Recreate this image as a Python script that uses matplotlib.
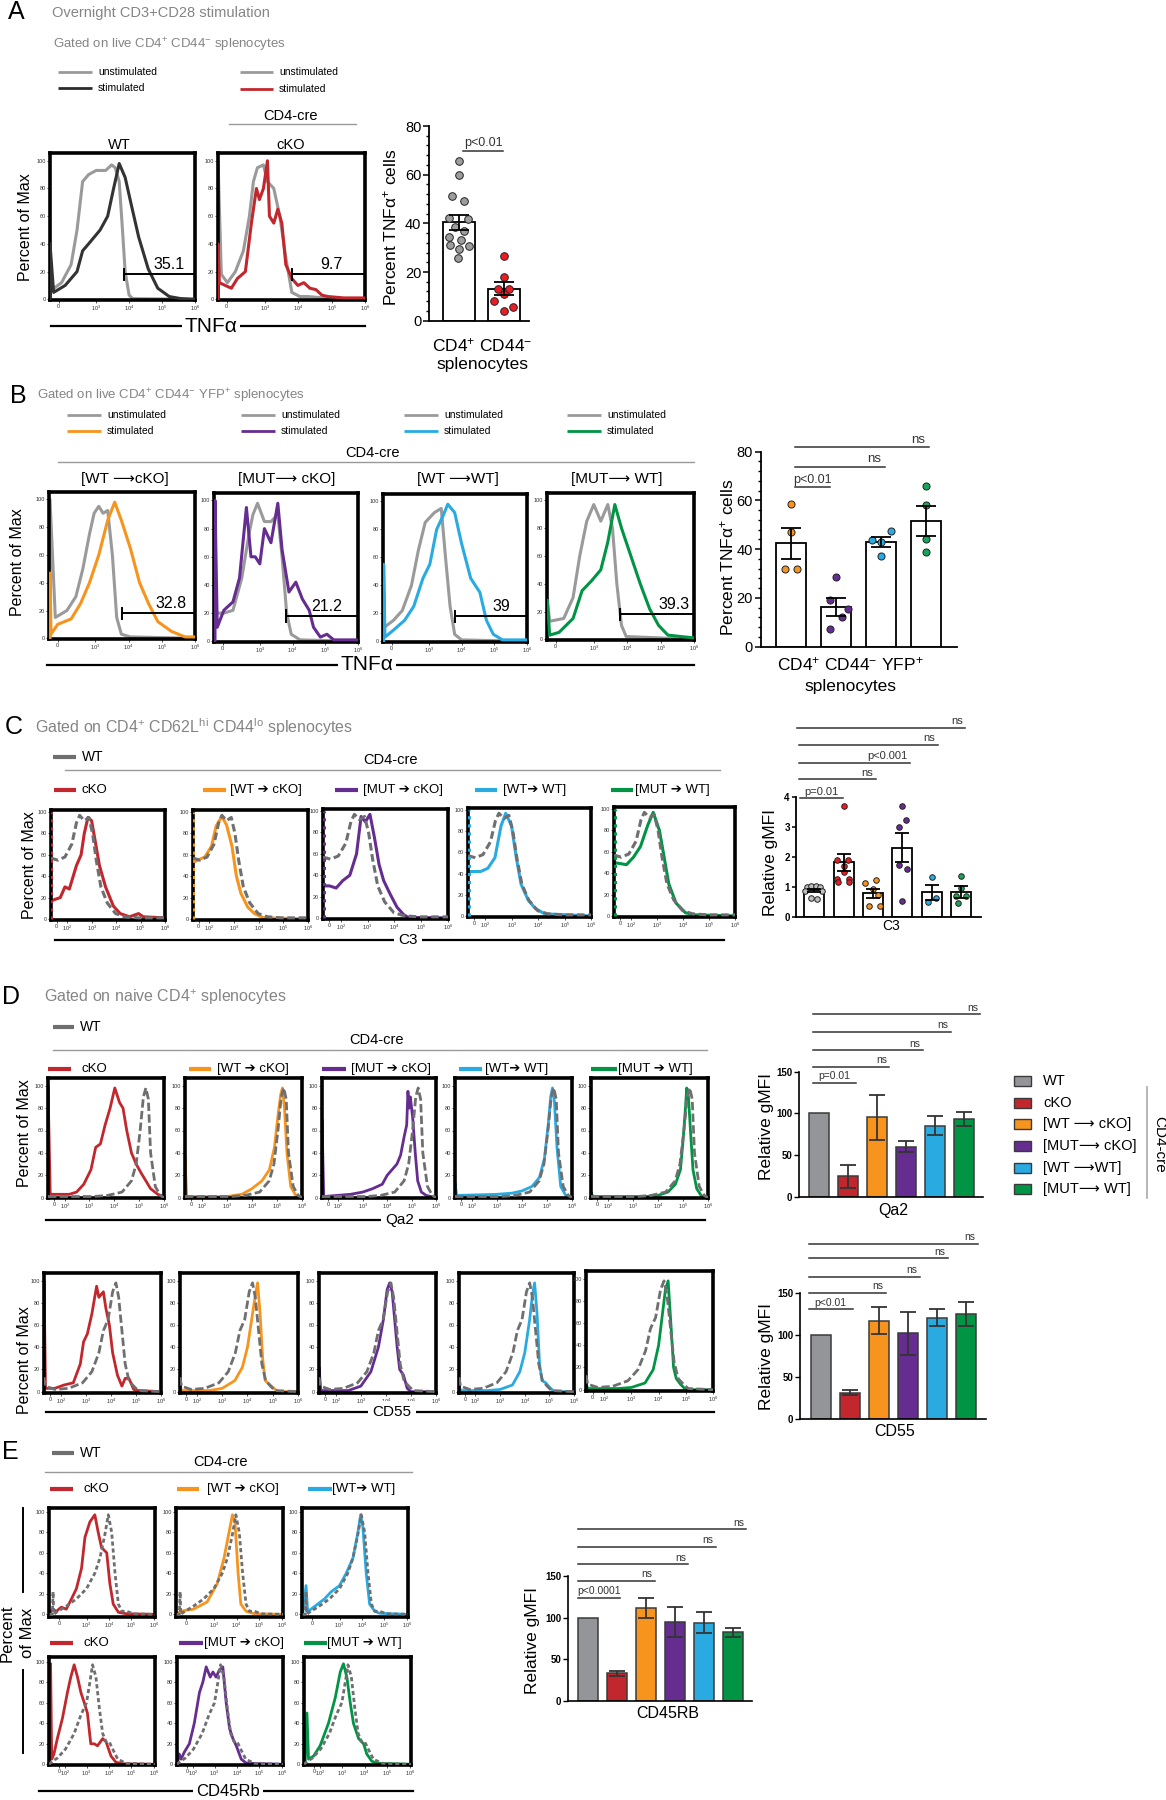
import matplotlib
matplotlib.use("Agg")
import matplotlib.pyplot as plt
from matplotlib.lines import Line2D
from matplotlib.patches import Rectangle
from matplotlib.ticker import MultipleLocator

W, H = 1166, 1800
plt.rcParams['font.family'] = ['Liberation Sans', 'DejaVu Sans']
plt.rcParams['mathtext.fontset'] = 'custom'
plt.rcParams['mathtext.rm'] = 'Liberation Sans'
plt.rcParams['mathtext.it'] = 'Liberation Sans:italic'
plt.rcParams['mathtext.bf'] = 'Liberation Sans:bold'

# colours
TITLE_GRAY = '#858585'
UNSTIM = '#9a9a9a'
WT_LINE = '#6f6f71'
RED = '#c1272d'
ORANGE = '#f7941d'
PURPLE = '#662d91'
BLUE = '#29abe2'
GREEN = '#009444'
BAR_GRAY = '#939598'

# ---------------- data ----------------
# A: histograms, x in log decades (0 -> ~1.86), y in % of max
a_wt_unstim = ([1.6, 1.66, 1.95, 2.24, 2.42, 2.59, 2.77, 3.0, 3.29, 3.47, 3.58, 3.70, 3.80, 3.88, 4.0, 4.11, 6.0],
               [7, 7, 12, 25, 50, 85, 90, 93, 93, 97, 95, 85, 50, 20, 3, 0.5, 0])
a_wt_stim = ([1.6, 1.6, 1.71, 2.06, 2.42, 2.59, 2.77, 3.12, 3.35, 3.53, 3.70, 3.88, 4.05, 4.29, 4.58, 4.87, 5.22, 5.57, 6.0],
             [0, 40, 5, 10, 20, 35, 40, 50, 60, 80, 98, 88, 70, 45, 22, 8, 2, 0.5, 0])
a_ko_unstim = ([1.6, 1.6, 1.70, 1.88, 2.12, 2.36, 2.54, 2.66, 2.78, 2.96, 3.08, 3.27, 3.45, 3.63, 3.81, 4.05, 4.29, 4.77, 5.49, 6.0],
               [0, 100, 18, 12, 20, 35, 60, 85, 95, 97, 85, 80, 60, 30, 5, 2, 2, 1, 0, 0])
a_ko_stim = ([1.6, 1.6, 1.64, 1.82, 2.0, 2.18, 2.42, 2.60, 2.75, 2.84, 2.96, 3.08, 3.14, 3.27, 3.39, 3.51, 3.63, 3.81,
              3.99, 4.17, 4.35, 4.53, 4.71, 4.89, 5.37, 6.0],
             [0, 40, 12, 10, 8, 15, 20, 55, 80, 72, 80, 100, 60, 55, 65, 55, 25, 15, 10, 12, 8, 7, 3, 2, 1, 1])
a_gate_start = [3.85, 3.8]
a_gate_text = ['35.1', '9.7']
a_gate_text_x = [5.2, 5.0]

a_gray_pts = [65.7, 59.7, 51.4, 49.2, 42.2, 41.6, 38.4, 37.0, 34.5, 33.2, 31.0, 30.5, 29.6, 25.8]
a_gray_dx = [0, 0, -0.15, 0.12, -0.23, 0.19, -0.1, 0.12, -0.22, 0.05, -0.2, 0.22, 0.0, -0.02]
a_red_pts = [26.6, 18.1, 12.9, 12.9, 10.8, 8.2, 5.5, 4.1]
a_red_dx = [0, 0, -0.13, 0.12, 0, -0.23, 0.19, 0]
a_means = [40.5, 13.2]
a_sem = [3.1, 2.7]

# B
b1_gray = ([1.63, 1.63, 1.79, 2.14, 2.41, 2.62, 2.82, 2.96, 3.10, 3.23, 3.37, 3.51, 3.64, 3.78, 4.05, 6.0],
           [0, 100, 15, 20, 30, 50, 75, 90, 95, 90, 92, 60, 15, 3, 1, 0])
b1_col = ([1.63, 1.63, 1.66, 1.86, 2.27, 2.55, 2.82, 3.10, 3.37, 3.58, 3.78, 4.05, 4.33, 4.60, 4.88, 5.29, 5.70, 6.0],
          [0, 47, 3, 10, 14, 25, 40, 60, 85, 98, 85, 65, 40, 25, 12, 5, 1, 1])
b2_gray = ([1.6, 1.90, 2.18, 2.45, 2.66, 2.79, 2.93, 3.14, 3.34, 3.55, 3.68, 3.82, 3.96, 4.23, 6.0],
           [20, 20, 22, 45, 75, 90, 98, 85, 85, 90, 60, 20, 5, 1, 0])
b2_col = ([1.63, 1.63, 1.70, 1.90, 2.18, 2.38, 2.59, 2.73, 2.86, 3.0, 3.14, 3.34, 3.55, 3.68, 3.89, 4.10, 4.30, 4.51,
           4.64, 4.85, 5.05, 5.26, 6.0],
          [0, 100, 10, 22, 28, 45, 95, 60, 60, 55, 80, 70, 98, 65, 35, 42, 30, 22, 10, 3, 5, 1, 1])
b3_gray = ([1.64, 1.92, 2.19, 2.47, 2.68, 2.89, 3.17, 3.38, 3.51, 3.65, 3.79, 4.0, 6.0],
           [10, 15, 22, 40, 65, 85, 92, 95, 60, 25, 5, 1, 0])
b3_col = ([1.62, 1.62, 1.66, 1.92, 2.26, 2.54, 2.82, 3.03, 3.24, 3.44, 3.58, 3.79, 4.0, 4.28, 4.56, 4.76, 4.97, 5.25, 6.0],
          [0, 55, 3, 8, 15, 25, 45, 55, 80, 90, 98, 92, 70, 45, 35, 15, 5, 1, 1])
b4_gray = ([1.61, 1.68, 2.10, 2.38, 2.58, 2.79, 3.0, 3.21, 3.42, 3.56, 3.69, 3.83, 3.97, 6.0],
           [28, 13, 15, 30, 60, 85, 97, 85, 97, 80, 40, 10, 2, 0])
b4_col = ([1.61, 1.68, 1.96, 2.38, 2.65, 2.93, 3.21, 3.42, 3.63, 3.83, 4.11, 4.39, 4.67, 4.94, 5.22, 6.0],
          [28, 3, 5, 15, 35, 42, 50, 70, 97, 80, 60, 40, 22, 10, 3, 1])
b_titles = ['[WT \u27f6cKO]', '[MUT\u27f6 cKO]', '[WT \u27f6WT]', '[MUT\u27f6 WT]']
b_gate_start = [3.81, 3.79, 3.79, 3.79]
b_gate_text = ['32.8', '21.2', '39', '39.3']
b_gate_text_x = [5.29, 5.05, 5.22, 5.4]

b_orange_pts = [58.4, 46.9, 32.0, 32.0]
b_orange_dx = [0, 0, -0.13, 0.13]
b_purple_pts = [28.6, 19.3, 15.5, 12.0, 7.2]
b_purple_dx = [0, -0.13, 0.26, 0.13, -0.13]
b_blue_pts = [47.5, 43.8, 42.8, 37.2]
b_blue_dx = [0.21, -0.21, 0, 0]
b_green_pts = [65.9, 58.0, 44.2, 38.7]
b_green_dx = [0, 0, 0, 0]
b_means = [42.4, 16.4, 42.8, 51.7]
b_sem = [6.4, 3.6, 2.1, 6.2]

# C (C3)
c_wt = ([1.34, 1.62, 1.91, 2.19, 2.38, 2.51, 2.70, 2.89, 3.04, 3.19, 3.38, 3.64, 3.98, 4.36, 4.92, 6.0],
        [57, 55, 58, 70, 90, 97, 92, 95, 80, 55, 30, 15, 5, 2, 1, 1])
c_cko = ([1.34, 1.72, 1.91, 2.09, 2.38, 2.57, 2.70, 2.85, 3.0, 3.13, 3.32, 3.57, 3.89, 4.17, 4.55, 4.92, 5.11, 6.0],
         [17, 20, 30, 28, 50, 60, 80, 95, 92, 75, 50, 30, 12, 5, 2, 5, 2, 1])
c_wt2cko = ([1.34, 1.82, 2.09, 2.28, 2.51, 2.70, 2.92, 3.10, 3.28, 3.56, 3.83, 4.2, 6.0],
            [53, 58, 68, 87, 96, 88, 68, 40, 24, 11, 5, 1, 0])
c_mut2cko = ([1.34, 1.58, 1.83, 2.08, 2.34, 2.59, 2.76, 2.92, 3.09, 3.26, 3.43, 3.60, 3.85, 4.10, 4.35, 4.52, 6.0],
             [30, 30, 28, 35, 40, 60, 95, 90, 97, 75, 50, 35, 22, 10, 3, 0.5, 0])
c_wt2wt = ([1.34, 1.82, 2.09, 2.36, 2.59, 2.77, 2.99, 3.17, 3.35, 3.62, 3.89, 4.25, 6.0],
           [42, 42, 45, 55, 85, 97, 85, 55, 30, 15, 7, 2, 0])
c_mut2wt = ([1.34, 1.82, 2.09, 2.36, 2.64, 2.85, 3.09, 3.27, 3.45, 3.73, 4.09, 4.45, 6.0],
            [50, 48, 55, 65, 85, 97, 80, 55, 30, 12, 3, 1, 0])
c_gray_pts = [1.0, 1.02, 1.02, 1.0, 0.85, 0.85, 0.62, 0.6]
c_gray_dx = [-0.25, -0.1, 0.05, 0.2, -0.3, 0.25, -0.1, 0.1]
c_red_pts = [3.7, 1.89, 1.88, 1.69, 1.48, 1.26, 1.26, 1.17, 1.17]
c_red_dx = [0, -0.23, 0.16, 0, 0, -0.23, 0.2, -0.19, 0.2]
c_orange_pts = [1.11, 1.22, 0.94, 0.74, 0.37, 0.37]
c_orange_dx = [-0.26, 0.11, 0, 0.17, -0.15, 0.23]
c_purple_pts = [3.69, 3.24, 3.0, 1.74, 1.58, 0.53]
c_purple_dx = [0, 0.11, -0.11, -0.11, 0.15, 0]
c_blue_pts = [1.31, 0.5, 0.63]
c_blue_dx = [0, -0.11, 0.14]
c_green_pts = [1.37, 0.97, 0.69, 0.69, 0.47]
c_green_dx = [0, 0, 0.16, -0.17, -0.12]
c_means = [0.89, 1.81, 0.78, 2.3, 0.81, 0.83]
c_sem = [0.05, 0.27, 0.14, 0.48, 0.25, 0.19]

# D (Qa2 row, CD55 row)
d1_wt = ([1.33, 3.15, 3.73, 4.31, 4.69, 4.88, 5.04, 5.17, 5.27, 5.37, 5.46, 5.65, 5.85, 6.0],
         [1, 1, 2, 5, 15, 30, 60, 90, 98, 88, 40, 10, 2, 0])
d1_cko = ([1.33, 1.33, 1.42, 1.81, 2.19, 2.48, 2.77, 3.06, 3.25, 3.44, 3.63, 3.83, 4.02, 4.21, 4.35, 4.50, 4.69, 4.88,
           5.08, 5.27, 5.46, 5.75, 6.0],
          [0, 100, 3, 3, 3, 5, 12, 25, 45, 48, 65, 80, 98, 85, 80, 60, 40, 30, 22, 15, 8, 3, 1])
d1_wt2cko = ([1.33, 1.33, 1.4, 3.0, 3.6, 4.0, 4.4, 4.7, 4.9, 5.05, 5.15, 5.22, 5.3, 5.4, 5.55, 5.75, 6.0],
             [0, 35, 1, 1, 3, 8, 15, 25, 45, 75, 92, 98, 80, 40, 10, 2, 0])
d1_mut2cko = ([1.33, 1.33, 1.4, 2.5, 3.0, 3.4, 3.8, 4.0, 4.2, 4.4, 4.55, 4.7, 4.8, 4.85, 4.9, 4.95, 5.05, 5.15, 5.25,
               5.4, 5.6, 6.0],
              [0, 70, 1, 3, 5, 8, 12, 20, 25, 30, 38, 55, 65, 95, 80, 90, 70, 40, 15, 5, 2, 0])
d1_wt2wt = ([1.33, 1.33, 1.4, 3.0, 3.6, 4.0, 4.4, 4.7, 4.9, 5.05, 5.15, 5.22, 5.3, 5.4, 5.55, 5.75, 6.0],
            [0, 13, 2, 3, 4, 6, 10, 18, 35, 65, 90, 98, 85, 45, 10, 2, 0])
d1_mut2wt = ([1.33, 1.33, 1.4, 3.5, 4.0, 4.4, 4.7, 4.9, 5.0, 5.1, 5.15, 5.22, 5.3, 5.4, 5.55, 5.75, 6.0],
             [0, 5, 1, 1, 2, 5, 12, 25, 50, 80, 98, 90, 60, 25, 8, 1, 0])
d2_wt = ([1.33, 1.39, 1.76, 2.31, 2.87, 3.24, 3.52, 3.70, 3.89, 4.07, 4.20, 4.31, 4.44, 4.57, 4.72, 4.91, 5.09, 6.0],
         [13, 5, 2, 3, 8, 18, 35, 55, 65, 90, 98, 85, 55, 25, 10, 5, 1, 0])
d2_cko = ([1.33, 1.33, 1.39, 1.76, 2.13, 2.5, 2.78, 2.91, 3.06, 3.24, 3.43, 3.52, 3.70, 3.80, 3.94, 4.07, 4.26, 4.44,
           4.57, 4.72, 4.91, 5.09, 6.0],
          [0, 100, 3, 3, 6, 8, 25, 45, 52, 70, 95, 85, 90, 75, 60, 35, 15, 5, 12, 12, 2, 1, 0])
d2_wt2cko = ([1.33, 1.33, 1.4, 2.5, 3.0, 3.5, 3.8, 4.0, 4.2, 4.3, 4.4, 4.5, 4.6, 4.7, 4.8, 5.0, 5.2, 6.0],
             [0, 5, 1, 1, 3, 10, 22, 40, 70, 85, 98, 70, 30, 10, 8, 4, 0, 0])
d2_mut2cko = ([1.33, 1.33, 1.4, 2.5, 3.0, 3.4, 3.7, 3.9, 4.05, 4.15, 4.25, 4.35, 4.45, 4.55, 4.7, 4.85, 5.0, 6.0],
              [0, 22, 1, 1, 5, 18, 40, 65, 92, 98, 90, 65, 40, 20, 15, 3, 0, 0])
d2_wt2wt = ([1.33, 1.33, 1.4, 2.5, 3.0, 3.5, 3.8, 4.0, 4.2, 4.3, 4.4, 4.5, 4.6, 4.7, 4.85, 5.0, 5.2, 6.0],
            [0, 5, 1, 1, 2, 6, 18, 35, 65, 85, 98, 70, 25, 10, 8, 4, 0, 0])
d2_mut2wt = ([1.33, 1.33, 1.4, 2.5, 3.0, 3.5, 3.8, 4.0, 4.15, 4.25, 4.35, 4.45, 4.55, 4.65, 4.8, 5.0, 6.0],
             [0, 5, 1, 1, 2, 6, 18, 40, 70, 90, 98, 60, 20, 10, 5, 0, 0])

group_labels = ['WT', 'cKO', '[WT \u27f6 cKO]', '[MUT\u27f6 cKO]', '[WT \u27f6WT]', '[MUT\u27f6 WT]']
group_colors = [BAR_GRAY, RED, ORANGE, PURPLE, BLUE, GREEN]
cre_labels = ['cKO', '[WT \u2794 cKO]', '[MUT \u2794 cKO]', '[WT\u2794 WT]', '[MUT \u2794 WT]']
qa2_means = [100, 24.4, 95.2, 60, 85.2, 93.2]
qa2_sem = [0, 13.6, 27, 6.8, 11.6, 8.2]
cd55_means = [100, 31.4, 117.4, 102.3, 121, 125.3]
cd55_sem = [0, 3, 16, 25.5, 10.5, 14.3]

# E (CD45Rb)
e1_wt = ([1.36, 1.48, 1.51, 1.54, 1.66, 2.10, 2.55, 3.0, 3.37, 3.60, 3.82, 3.97, 4.12, 4.27, 4.42, 4.57, 4.79, 5.09, 6.05],
         [0, 0, 22, 0, 2, 8, 15, 25, 40, 55, 78, 97, 80, 40, 10, 3, 3, 0.5, 0])
e1_cko = ([1.36, 1.48, 1.66, 1.88, 2.10, 2.33, 2.55, 2.78, 2.93, 3.15, 3.37, 3.52, 3.67, 3.90, 4.04, 4.19, 4.42, 4.79, 6.05],
          [0, 5, 3, 7, 5, 15, 25, 45, 75, 90, 97, 80, 65, 60, 30, 10, 2, 0.5, 0])
e1_wt2cko = ([1.36, 1.51, 2.10, 2.70, 3.15, 3.45, 3.67, 3.82, 3.93, 4.07, 4.19, 4.42, 4.79, 6.05],
             [0, 3, 5, 12, 30, 55, 80, 97, 90, 40, 10, 3, 0.5, 0])
e1_wt2wt = ([1.36, 1.51, 1.58, 1.73, 2.03, 2.33, 2.63, 3.0, 3.30, 3.60, 3.82, 3.94, 4.04, 4.19, 4.34, 4.57, 4.79, 6.05],
            [0, 28, 3, 5, 10, 15, 22, 28, 40, 55, 80, 97, 85, 40, 10, 3, 1, 0])
e2_wt = ([1.33, 1.48, 1.70, 2.07, 2.45, 2.75, 3.0, 3.15, 3.27, 3.42, 3.57, 3.72, 3.87, 4.01, 4.16, 4.39, 4.76, 6.05],
         [0, 3, 6, 15, 30, 48, 60, 80, 97, 85, 55, 30, 22, 22, 15, 5, 1, 0])
e2_cko = ([1.33, 1.40, 1.45, 1.55, 1.70, 1.93, 2.15, 2.30, 2.45, 2.60, 2.75, 2.90, 3.04, 3.19, 3.34, 3.49, 3.72, 3.87,
           4.09, 4.31, 4.61, 6.05],
          [0, 98, 5, 10, 25, 45, 70, 85, 97, 85, 70, 60, 50, 20, 20, 18, 25, 22, 8, 2, 0.5, 0])
e2_mut2cko = ([1.33, 1.43, 1.51, 1.66, 1.88, 2.10, 2.33, 2.48, 2.63, 2.81, 2.93, 3.07, 3.22, 3.37, 3.52, 3.67, 3.82,
               3.97, 4.19, 4.42, 6.05],
              [0, 10, 5, 12, 20, 40, 70, 80, 95, 85, 90, 85, 92, 95, 60, 35, 25, 18, 5, 1, 0])
e2_mut2wt = ([1.38, 1.46, 1.53, 1.75, 2.04, 2.41, 2.71, 2.93, 3.07, 3.22, 3.37, 3.51, 3.74, 3.96, 4.10, 4.32, 4.54, 6.05],
             [0, 50, 5, 8, 18, 40, 65, 90, 98, 85, 60, 40, 25, 20, 10, 3, 1, 0])
cd45_means = [100, 32.9, 111, 94.3, 93.9, 82.2]
cd45_sem = [0, 2.8, 12, 18, 13, 5]

# ---------------- drawing helpers ----------------
fig = plt.figure(figsize=(W / 100, H / 100), dpi=100)


def px_ax(x0, y0, x1, y1):
    return fig.add_axes([x0 / W, 1 - y1 / H, (x1 - x0) / W, (y1 - y0) / H])


def ftext(x, y, s, size=10, color='black', ha='center', va='center', **kw):
    return fig.text(x / W, 1 - y / H, s, fontsize=size, color=color, ha=ha, va=va, **kw)


def fline(x0, x1, y0, y1=None, color='black', lw=1.0, **kw):
    if y1 is None:
        y1 = y0
    fig.add_artist(Line2D([x0 / W, x1 / W], [1 - y0 / H, 1 - y1 / H], color=color, lw=lw, **kw))


def legend_item(x0, x1, y, color, label, size=7.5, lw=2.0, tx=None):
    fline(x0, x1, y, color=color, lw=lw, solid_capstyle='butt')
    ftext(x1 + 6 if tx is None else tx, y, label, size=size, ha='left')


def hist(rect, series, xlim, ylim, xticks, xlabels, gate=None, edge=None):
    ax = px_ax(*rect)
    for (xs, ys), col, ls, lw, z in series:
        ax.plot(xs, ys, color=col, ls=ls, lw=lw, zorder=z)
    if edge is not None:
        ax.plot([xlim[0] + 0.02] * 2, [0, 100], color=edge, ls=':', lw=2.2, zorder=4)
    ax.set_xlim(*xlim)
    ax.set_ylim(*ylim)
    ax.set_yticks([0, 20, 40, 60, 80, 100])
    ax.set_xticks(xticks)
    ax.set_xticklabels(xlabels)
    ax.tick_params(labelsize=4, length=2, width=0.6, pad=1, colors='#333333')
    for s in ax.spines.values():
        s.set_linewidth(2.6)
    if gate is not None:
        g0, label, lx = gate
        ax.plot([g0, xlim[1]], [18, 18], color='black', lw=1.4, zorder=6)
        ax.plot([g0, g0], [14, 22], color='black', lw=1.4, zorder=6)
        ax.text(lx, 19.5, label, fontsize=11.5, ha='center', va='bottom', zorder=7)
    return ax


def bracket(ax, x0, x1, y, label, size=7.5, center=False):
    ax.plot([x0, x1], [y, y], color='#333333', lw=1.1, clip_on=False)
    tx = (x0 + x1) / 2 if center else x1 - 0.08
    ax.annotate(label, (tx, y), xytext=(0, 1), textcoords='offset points', ha='center' if center else 'right',
                va='bottom', fontsize=size, color='#333333', annotation_clip=False)


def scatter_bars(rect, means, sems, xlim, ylim, width, points, tick_size, bold, pt_size, capsize):
    ax = px_ax(*rect)
    xs = list(range(len(means)))
    ax.bar(xs, means, width=width, color='white', edgecolor='black', linewidth=1.3, zorder=1)
    for i, (vals, dx, col) in enumerate(points):
        ax.scatter([i + d for d in dx], vals, s=pt_size, color=col, edgecolor='#222222', linewidth=0.7, zorder=3)
    ax.errorbar(xs, means, yerr=sems, fmt='none', ecolor='black', elinewidth=1.3, capsize=capsize,
                capthick=1.3, zorder=4)
    ax.set_xlim(*xlim)
    ax.set_ylim(*ylim)
    ax.set_xticks([])
    for s in ('top', 'right'):
        ax.spines[s].set_visible(False)
    for s in ('left', 'bottom'):
        ax.spines[s].set_linewidth(1.3)
    ax.tick_params(axis='y', labelsize=tick_size, length=4, width=1.1, pad=1.5)
    if bold:
        for t in ax.get_yticklabels():
            t.set_fontweight('bold')
    return ax


def color_bars(rect, means, sems, xlim):
    ax = px_ax(*rect)
    xs = list(range(len(means)))
    ax.bar(xs, means, width=0.68, color=group_colors, edgecolor='#3a3a3a', linewidth=1.1, zorder=1)
    ex = [x for x, s in zip(xs, sems) if s > 0]
    ax.errorbar(ex, [means[x] for x in ex], yerr=[sems[x] for x in ex], fmt='none', ecolor='#333333',
                elinewidth=1.3, capsize=6, capthick=1.3, zorder=3)
    ax.set_xlim(*xlim)
    ax.set_ylim(0, 150)
    ax.set_yticks([0, 50, 100, 150])
    ax.set_xticks([])
    for s in ('top', 'right'):
        ax.spines[s].set_visible(False)
    for s in ('left', 'bottom'):
        ax.spines[s].set_linewidth(1.2)
    ax.tick_params(axis='y', labelsize=7, length=3.5, width=1.0, pad=1.5)
    for t in ax.get_yticklabels():
        t.set_fontweight('bold')
    return ax


AB_XT = [1.86, 3, 4, 5, 6]
AB_XL = ['0', '$10^{3}$', '$10^{4}$', '$10^{5}$', '$10^{6}$']
CD_XT = [1.57, 2, 3, 4, 5, 6]
CD_XL = ['0', '$10^{2}$', '$10^{3}$', '$10^{4}$', '$10^{5}$', '$10^{6}$']

# ---------------- panel A ----------------
ftext(8, 12, 'A', size=18, ha='left')
ftext(52, 13, 'Overnight CD3+CD28 stimulation', size=10.5, color=TITLE_GRAY, ha='left')
ftext(53, 45, r'Gated on live CD4$^{+}$ CD44$^{-}$ splenocytes', size=9.5, color=TITLE_GRAY, ha='left')
legend_item(58, 92, 72, UNSTIM, 'unstimulated')
legend_item(58, 92, 88, '#2b2b2b', 'stimulated')
legend_item(240, 273, 72, UNSTIM, 'unstimulated')
legend_item(240, 273, 89, RED, 'stimulated')
ftext(290, 116, 'CD4-cre', size=10.5)
fline(229, 356, 124, color='#999999', lw=1)
ftext(119, 145, 'WT', size=10.5)
ftext(291, 145, 'cKO', size=10.5)
ftext(26, 227, 'Percent of Max', size=11.5, rotation=90)

a_hist = [(a_wt_unstim, a_wt_stim, '#333333'), (a_ko_unstim, a_ko_stim, RED)]
a_rects = [(50, 153, 195, 300), (218, 153, 365, 300)]
for i, (unst, st, col) in enumerate(a_hist):
    hist(a_rects[i], [(unst, UNSTIM, '-', 2.2, 2), (st, col, '-', 2.2, 3)], (1.6, 6.0), (-0.5, 105.6),
         AB_XT, AB_XL, gate=(a_gate_start[i], a_gate_text[i], a_gate_text_x[i]))
fline(51, 365, 326, lw=1.6)
ftext(211, 326, 'TNF\u03b1', size=15, bbox=dict(facecolor='white', edgecolor='none', pad=1.5))

ax = scatter_bars((429, 126, 529, 320.7), a_means, a_sem, (-0.667, 1.556), (0, 80), 0.69,
                  [(a_gray_pts, a_gray_dx, '#9d9d9d'), (a_red_pts, a_red_dx, '#ed1c24')], 10.5, False, 30, 7)
ax.set_yticks([0, 20, 40, 60, 80])
ax.yaxis.set_minor_locator(MultipleLocator(4))
ax.tick_params(axis='y', which='minor', length=2.5, width=1.0)
bracket(ax, 0.09, 0.98, 69.9, 'p<0.01', size=9, center=True)
ftext(390, 227, 'Percent TNF\u03b1$^{+}$ cells', size=12.5, rotation=90)
ftext(482, 345, r'CD4$^{+}$ CD44$^{-}$', size=12.5)
ftext(482, 364, 'splenocytes', size=12.5)

# ---------------- panel B ----------------
ftext(10, 396, 'B', size=18, ha='left')
ftext(37, 396, r'Gated on live CD4$^{+}$ CD44$^{-}$ YFP$^{+}$ splenocytes', size=9.5, color=TITLE_GRAY, ha='left')
b_leg_x = [67, 241, 404, 567]
b_cols = [ORANGE, PURPLE, BLUE, GREEN]
for lx, col in zip(b_leg_x, b_cols):
    legend_item(lx, lx + 34, 415, UNSTIM, 'unstimulated')
    legend_item(lx, lx + 34, 431, col, 'stimulated')
ftext(372, 453, 'CD4-cre', size=10.5)
fline(58, 694, 462, color='#999999', lw=1)
b_rects = [(49, 492, 195, 639), (214, 493, 358, 642), (383, 494, 527, 642), (547, 493, 694, 640)]
b_title_x = [125, 287, 458, 617]
b_curves = [(b1_gray, b1_col), (b2_gray, b2_col), (b3_gray, b3_col), (b4_gray, b4_col)]
for i in range(4):
    g, c = b_curves[i]
    hist(b_rects[i], [(g, UNSTIM, '-', 2.2, 2), (c, b_cols[i], '-', 2.2, 3)], (1.6, 6.0), (-0.5, 105.3),
         AB_XT, AB_XL, gate=(b_gate_start[i], b_gate_text[i], b_gate_text_x[i]))
    ftext(b_title_x[i], 479, b_titles[i], size=11)
ftext(18, 562, 'Percent of Max', size=11.5, rotation=90)
fline(47, 694, 665, lw=1.6)
ftext(367, 665, 'TNF\u03b1', size=15, bbox=dict(facecolor='white', edgecolor='none', pad=1.5))

ax = scatter_bars((760.7, 451.7, 956.7, 646.7), b_means, b_sem, (-0.673, 3.68), (0, 80), 0.667,
                  [(b_orange_pts, b_orange_dx, ORANGE), (b_purple_pts, b_purple_dx, PURPLE),
                   (b_blue_pts, b_blue_dx, BLUE), (b_green_pts, b_green_dx, '#1aa35a')], 10.5, False, 26, 7)
ax.set_yticks([0, 20, 40, 60, 80])
ax.yaxis.set_minor_locator(MultipleLocator(4))
ax.tick_params(axis='y', which='minor', length=2.5, width=1.0)
bracket(ax, 0.09, 0.87, 65.5, 'p<0.01', size=9, center=True)
bracket(ax, 0.09, 2.09, 73.8, 'ns', size=9.5)
bracket(ax, 0.09, 3.07, 81.9, 'ns', size=9.5)
ftext(727, 557, 'Percent TNF\u03b1$^{+}$ cells', size=12.5, rotation=90)
ftext(850, 664, r'CD4$^{+}$ CD44$^{-}$ YFP$^{+}$', size=12.5)
ftext(850, 686, 'splenocytes', size=12.5)

# ---------------- panel C ----------------
ftext(5, 727, 'C', size=18, ha='left')
ftext(35, 727, r'Gated on CD4$^{+}$ CD62L$^{\rm hi}$ CD44$^{\rm lo}$ splenocytes', size=11.5, color=TITLE_GRAY,
      ha='left')
legend_item(53, 76, 757, WT_LINE, 'WT', size=10, lw=3)
ftext(390, 760, 'CD4-cre', size=10.5)
fline(65, 720, 770, color='#999999', lw=1)
c_leg = [(54, 76, 81), (203, 226, 230), (335, 358, 363), (475, 497, 503), (611, 633, 635)]
c_cols = [RED, ORANGE, PURPLE, BLUE, GREEN]
for (l0, l1, tx), col, lab in zip(c_leg, c_cols, cre_labels):
    legend_item(l0, l1, 790, col, lab, size=9.5, lw=3, tx=tx)
c_rects = [(51, 810, 165, 920), (193, 810, 308, 920), (323, 809, 448, 919), (468, 808, 591, 917),
           (614, 807, 735, 917)]
c_curves = [c_cko, c_wt2cko, c_mut2cko, c_wt2wt, c_mut2wt]
for i in range(5):
    hist(c_rects[i], [(c_curves[i], c_cols[i], '-', 2.2, 2), (c_wt, WT_LINE, (0, (2.5, 1.2)), 2.2, 3)],
         (1.34, 6.0), (-1, 102), CD_XT, CD_XL, edge=c_cols[i])
ftext(30, 865, 'Percent of Max', size=11.5, rotation=90)
fline(55, 724, 940, lw=1.6)
ftext(408, 940, 'C3', size=11, bbox=dict(facecolor='white', edgecolor='none', pad=3))

ax = scatter_bars((796, 796.7, 981, 916.7), c_means, c_sem, (-0.62, 5.68), (0, 4), 0.68,
                  [(c_gray_pts, c_gray_dx, '#bcbec0'), (c_red_pts, c_red_dx, '#ed1c24'),
                   (c_orange_pts, c_orange_dx, ORANGE), (c_purple_pts, c_purple_dx, PURPLE),
                   (c_blue_pts, c_blue_dx, BLUE), (c_green_pts, c_green_dx, '#1aa35a')], 7, True, 16, 5)
ax.set_yticks([0, 1, 2, 3, 4])
for t in ax.get_yticklabels():
    t.set_fontweight('bold')
ax.tick_params(axis='y', length=3)
bracket(ax, -0.49, 0.98, 3.95, 'p=0.01', size=8, center=True)
bracket(ax, -0.52, 2.09, 4.58, 'ns', size=8)
bracket(ax, -0.52, 3.25, 5.14, 'p<0.001', size=8)
bracket(ax, -0.52, 4.2, 5.74, 'ns', size=8)
bracket(ax, -0.6, 5.15, 6.3, 'ns', size=8)
ftext(770, 863, 'Relative gMFI', size=12.5, rotation=90)
ftext(891, 926, 'C3', size=10)

# ---------------- panel D ----------------
ftext(2, 997, 'D', size=18, ha='left')
ftext(44, 997, r'Gated on naive CD4$^{+}$ splenocytes', size=11.5, color=TITLE_GRAY, ha='left')
legend_item(53, 74, 1027, WT_LINE, 'WT', size=10, lw=3)
ftext(376, 1040, 'CD4-cre', size=10.5)
fline(53, 707, 1050, color='#999999', lw=1)
d_leg = [(48, 71, 82), (189, 211, 217), (322, 346, 351), (459, 482, 485), (591, 617, 618)]
for (l0, l1, tx), col, lab in zip(d_leg, c_cols, cre_labels):
    legend_item(l0, l1, 1069, col, lab, size=9.5, lw=3, tx=tx)
d1_rects = [(48, 1078, 164, 1198), (185, 1078, 302, 1198), (322, 1078, 436, 1198), (455, 1078, 572, 1198),
            (591, 1078, 708, 1198)]
d1_curves = [d1_cko, d1_wt2cko, d1_mut2cko, d1_wt2wt, d1_mut2wt]
for i in range(5):
    hist(d1_rects[i], [(d1_curves[i], c_cols[i], '-', 2.0, 2), (d1_wt, WT_LINE, (0, (3, 1.2)), 2.0, 3)],
         (1.33, 6.0), (-0.3, 106.9), CD_XT, CD_XL)
ftext(25, 1133, 'Percent of Max', size=11.5, rotation=90)
fline(46, 705, 1220, lw=1.6)
ftext(400, 1220, 'Qa2', size=11, bbox=dict(facecolor='white', edgecolor='none', pad=3))

d2_rects = [(44, 1273, 161, 1393), (180, 1273, 298, 1393), (319, 1273, 436, 1393), (459, 1273, 574, 1393),
            (586, 1271, 713, 1391)]
d2_curves = [d2_cko, d2_wt2cko, d2_mut2cko, d2_wt2wt, d2_mut2wt]
for i in range(5):
    hist(d2_rects[i], [(d2_curves[i], c_cols[i], '-', 2.0, 2), (d2_wt, WT_LINE, (0, (3, 1.2)), 2.0, 3)],
         (1.33, 6.0), (-1.2, 106.9), CD_XT, CD_XL)
ftext(25, 1360, 'Percent of Max', size=11.5, rotation=90)
fline(46, 714, 1412, lw=1.6)
ftext(392, 1412, 'CD55', size=11, bbox=dict(facecolor='white', edgecolor='none', pad=3))

ax = color_bars((799.3, 1071.7, 983.3, 1196.7), qa2_means, qa2_sem, (-0.686, 5.67))
bracket(ax, -0.22, 1.26, 136.8, 'p=0.01', center=True)
for x1, y in zip([2.42, 3.59, 4.54, 5.56], [156, 176, 198, 219]):
    bracket(ax, -0.22, x1, y, 'ns')
ftext(767, 1127, 'Relative gMFI', size=12.5, rotation=90)
ftext(893, 1211, 'Qa2', size=11.5)

leg_y = [1081, 1103, 1124, 1146, 1168, 1189]
for y, col, lab in zip(leg_y, group_colors, group_labels):
    fig.add_artist(Rectangle((1014 / W, 1 - (y + 5) / H), 17 / W, 10 / H, transform=fig.transFigure,
                             facecolor=col, edgecolor='#3a3a3a', lw=1))
    ftext(1043, y, lab, size=10.5, ha='left')
fline(1147, 1147, 1087, 1198, color='#aaaaaa', lw=1.2)
ftext(1159, 1144, 'CD4-cre', size=11, rotation=-90)

ax = color_bars((800, 1293.3, 985.7, 1419), cd55_means, cd55_sem, (-0.717, 5.68))
bracket(ax, -0.41, 1.1, 131.3, 'p<0.01', center=True)
for x1, y in zip([2.24, 3.41, 4.38, 5.41], [150.8, 169.9, 191.8, 209]):
    bracket(ax, -0.41, x1, y, 'ns')
ftext(767, 1357, 'Relative gMFI', size=12.5, rotation=90)
ftext(895, 1432, 'CD55', size=11.5)

# ---------------- panel E ----------------
ftext(2, 1452, 'E', size=18, ha='left')
legend_item(52, 74, 1453, WT_LINE, 'WT', size=10, lw=3)
ftext(220, 1462, 'CD4-cre', size=10.5)
fline(45, 412, 1472, color='#999999', lw=1)
legend_item(50, 73, 1489, RED, 'cKO', size=9.5, lw=3, tx=83)
legend_item(177, 199, 1489, ORANGE, '[WT \u2794 cKO]', size=9.5, lw=3, tx=207)
legend_item(308, 332, 1489, BLUE, '[WT\u2794 WT]', size=9.5, lw=3, tx=332)
legend_item(50, 73, 1643, RED, 'cKO', size=9.5, lw=3, tx=83)
legend_item(179, 203, 1643, PURPLE, '[MUT \u2794 cKO]', size=9.5, lw=3, tx=204)
legend_item(304, 327, 1643, GREEN, '[MUT \u2794 WT]', size=9.5, lw=3, tx=327)

E_XT1 = [1.78, 3, 4, 5, 6]
E_XL1 = ['0', '$10^{3}$', '$10^{4}$', '$10^{5}$', '$10^{6}$']
E_XT2 = [1.78, 2.05, 3, 4, 5, 6]
E_XL2 = ['0', '$10^{2}$', '$10^{3}$', '$10^{4}$', '$10^{5}$', '$10^{6}$']
e1_rects = [(49, 1508, 155, 1617), (176, 1508, 283, 1617), (302, 1508, 408, 1617)]
e1_curves = [(e1_cko, RED), (e1_wt2cko, ORANGE), (e1_wt2wt, BLUE)]
for r, (cv, col) in zip(e1_rects, e1_curves):
    hist(r, [(cv, col, '-', 2.0, 2), (e1_wt, WT_LINE, (0, (1.5, 1.0)), 2.0, 3)], (1.33, 6.05), (-2.6, 103.6),
         E_XT1, E_XL1)
e2_rects = [(49, 1657, 155, 1765), (177, 1657, 283, 1765), (304, 1657, 411, 1765)]
e2_curves = [(e2_cko, RED), (e2_mut2cko, PURPLE), (e2_mut2wt, GREEN)]
for r, (cv, col) in zip(e2_rects, e2_curves):
    hist(r, [(cv, col, '-', 2.0, 2), (e2_wt, WT_LINE, (0, (1.5, 1.0)), 2.0, 3)], (1.33, 6.05), (-0.7, 104.6),
         E_XT2, E_XL2)
ftext(7, 1633, 'Percent', size=12, rotation=90)
ftext(27, 1633, 'of Max', size=12, rotation=90)
fline(23, 23, 1508, 1592, lw=1.4)
fline(23, 23, 1670, 1753, lw=1.4)
fline(39, 413, 1791, lw=1.6)
ftext(228, 1791, 'CD45Rb', size=12, bbox=dict(facecolor='white', edgecolor='none', pad=2))

ax = color_bars((568.3, 1576, 752.3, 1700.7), cd45_means, cd45_sem, (-0.667, 5.66))
bracket(ax, -0.34, 1.11, 124, 'p<0.0001', center=True)
for x1, y in zip([2.3, 3.46, 4.41, 5.45], [144.4, 164, 185.3, 206.2]):
    bracket(ax, -0.34, x1, y, 'ns')
ftext(533, 1640, 'Relative gMFI', size=12.5, rotation=90)
ftext(668, 1713, 'CD45RB', size=11.5)

fig.savefig('out.png', dpi=100, facecolor='white')
